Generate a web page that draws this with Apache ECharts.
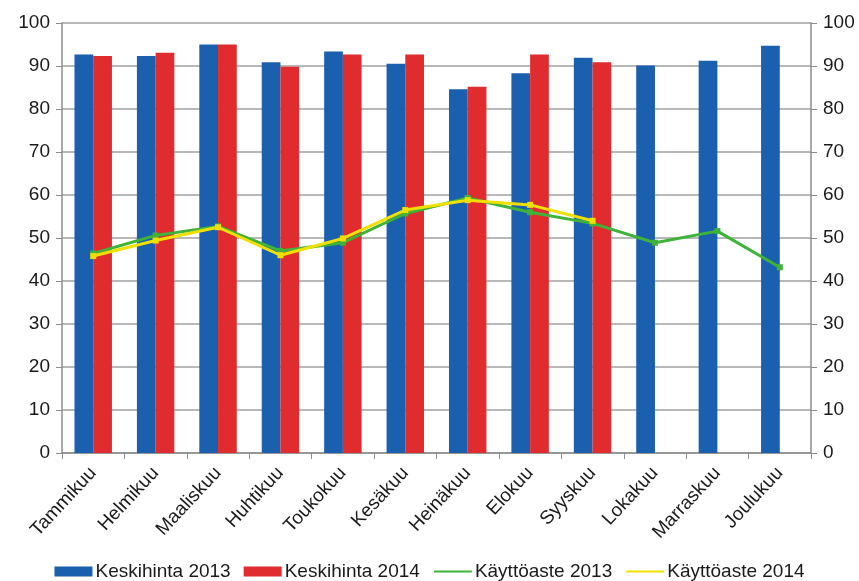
<!DOCTYPE html>
<html><head><meta charset="utf-8">
<script src="https://cdn.jsdelivr.net/npm/echarts@6/dist/echarts.min.js"></script>
<style>html,body{margin:0;padding:0;background:#fff}#c{width:859px;height:581px}</style>
</head><body><div id="c"></div>
<script>
const categories = ['Tammikuu','Helmikuu','Maaliskuu','Huhtikuu','Toukokuu','Kesäkuu','Heinäkuu','Elokuu','Syyskuu','Lokakuu','Marraskuu','Joulukuu'];
const hinta2013 = [92.7, 92.3, 95.0, 90.9, 93.4, 90.5, 84.6, 88.3, 91.9, 90.1, 91.2, 94.7];
const hinta2014 = [92.3, 93.1, 95.0, 89.8, 92.7, 92.7, 85.2, 92.7, 90.9, null, null, null];
const aste2013 = [46.4, 50.6, 52.7, 47.0, 48.9, 55.7, 59.3, 56.0, 53.4, 48.9, 51.6, 43.2];
const aste2014 = [45.8, 49.4, 52.5, 46.0, 49.9, 56.5, 58.8, 57.7, 54.0, null, null, null];
const yTicks = [0,10,20,30,40,50,60,70,80,90,100];

const font = 'Liberation Sans, Arial, sans-serif';
const chart = echarts.init(document.getElementById('c'));
const yAxisBase = {
  type:'value', min:yTicks[0], max:yTicks[yTicks.length-1], interval:yTicks[1]-yTicks[0],
  axisLine:{show:true, lineStyle:{color:'#8c8c8c', width:1.5}},
  axisTick:{show:true, length:6, lineStyle:{color:'#8c8c8c'}},
  axisLabel:{color:'#1a1a1a', fontSize:19, fontFamily:font, margin:12},
};
chart.setOption({
  animation:false,
  textStyle:{fontFamily:font},
  grid:{left:62, right:48, top:23, bottom:128},
  legend:{
    top:557, left:'center', itemGap:13, itemWidth:38, itemHeight:10,
    textStyle:{fontSize:19, color:'#1a1a1a', fontFamily:font, padding:[0,0,0,-2]},
    data:[
      {name:'Keskihinta 2013', icon:'rect'},
      {name:'Keskihinta 2014', icon:'rect'},
      {name:'Käyttöaste 2013', itemStyle:{opacity:0}},
      {name:'Käyttöaste 2014', itemStyle:{opacity:0}}
    ]
  },
  xAxis:{
    type:'category', data:categories, boundaryGap:true,
    axisLine:{lineStyle:{color:'#8c8c8c', width:1.5}},
    axisTick:{show:true, length:6, lineStyle:{color:'#8c8c8c'}},
    axisLabel:{rotate:47, color:'#1a1a1a', fontSize:19, fontFamily:font, margin:17, interval:0}
  },
  yAxis:[
    Object.assign({}, yAxisBase, {position:'left',
      splitLine:{show:true, lineStyle:{color:'#a0a0a0', width:1.5}}}),
    Object.assign({}, yAxisBase, {position:'right', splitLine:{show:false}})
  ],
  series:[
    {name:'Keskihinta 2013', type:'bar', data:hinta2013, barGap:'0%', barCategoryGap:'40%',
      itemStyle:{color:'#1b5faf'}},
    {name:'Keskihinta 2014', type:'bar', data:hinta2014, barGap:'0%', barCategoryGap:'40%',
      itemStyle:{color:'#e02b2f'}},
    {name:'Käyttöaste 2013', type:'line', data:aste2013, symbol:'rect', symbolSize:6,
      lineStyle:{color:'#3fb23a', width:3}, itemStyle:{color:'#3fb23a'}, z:3},
    {name:'Käyttöaste 2014', type:'line', data:aste2014, symbol:'rect', symbolSize:6,
      lineStyle:{color:'#f0e000', width:3}, itemStyle:{color:'#f0e000'}, z:4}
  ]
});
</script></body></html>
